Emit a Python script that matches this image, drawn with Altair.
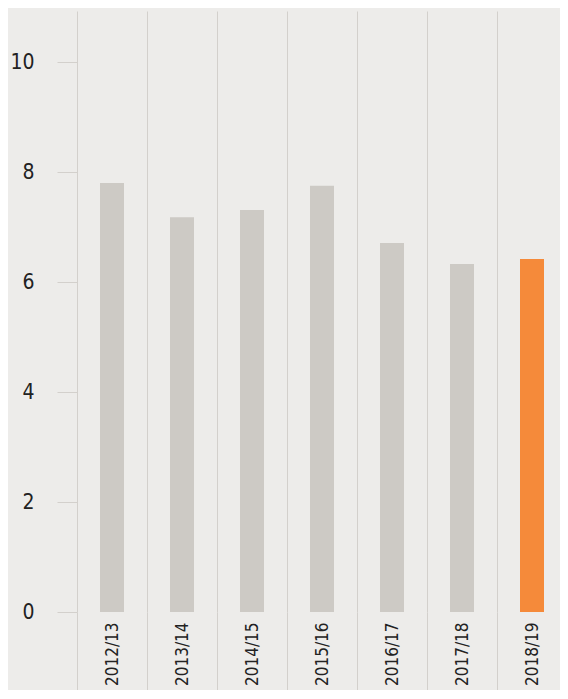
import altair as alt
import pandas as pd

years = ["2012/13", "2013/14", "2014/15", "2015/16", "2016/17", "2017/18", "2018/19"]
values = [7.80, 7.18, 7.31, 7.75, 6.71, 6.33, 6.42]
highlight = ["no", "no", "no", "no", "no", "no", "yes"]
y_ticks = [0, 2, 4, 6, 8, 10]

df = pd.DataFrame({"year": years, "value": values, "hl": highlight})

FONT = "Liberation Sans Narrow, DejaVu Sans Condensed, Roboto, sans-serif"
GRID = "#d3d0cc"
BG = "#edecea"

chart = (
    alt.Chart(df)
    .mark_bar(size=24)
    .encode(
        x=alt.X(
            "year:N",
            sort=years,
            title=None,
            scale=alt.Scale(paddingInner=0, paddingOuter=0, range=[0, 490]),
            axis=alt.Axis(
                orient="bottom",
                domain=False,
                grid=True,
                gridColor=GRID,
                gridWidth=1,
                tickBand="extent",
                ticks=True,
                tickSize=90,
                tickColor=GRID,
                tickWidth=1,
                labelAngle=270,
                labelAlign="right",
                labelBaseline="middle",
                labelPadding=-80,
                labelFont=FONT,
                labelFontSize=17,
                labelColor="#222222",
            ),
        ),
        y=alt.Y(
            "value:Q",
            title=None,
            scale=alt.Scale(domain=[0, 10.93], nice=False, zero=True),
            axis=alt.Axis(
                values=y_ticks,
                domain=False,
                grid=False,
                ticks=True,
                tickSize=20,
                tickColor=GRID,
                tickWidth=1,
                labelPadding=23,
                labelFont=FONT,
                labelFontSize=21,
                labelColor="#222222",
            ),
        ),
        color=alt.Color(
            "hl:N",
            scale=alt.Scale(domain=["no", "yes"], range=["#cdcac5", "#f58a3a"]),
            legend=None,
        ),
    )
    .properties(
        width=483,
        height=601,
        autosize=alt.AutoSizeParams(type="none"),
        padding={"left": 69, "top": 3, "right": 0, "bottom": 78},
        background=BG,
    )
    .configure_view(strokeWidth=0)
)

chart.save("out.html", embed_options={"renderer": "svg", "actions": False})
